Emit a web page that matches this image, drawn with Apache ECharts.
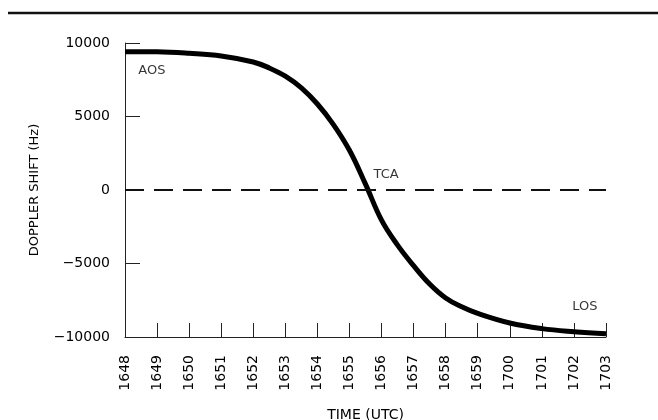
<!DOCTYPE html>
<html>
<head>
<meta charset="utf-8">
<script src="https://cdn.jsdelivr.net/npm/echarts@6/dist/echarts.min.js"></script>
<style>
html,body{margin:0;padding:0;background:#fff;}
#c{width:658px;height:420px;}
</style>
</head>
<body>
<div id="c"></div>
<script>
// minutes after 1648 UTC (half-minute readings where the curve is steep)
const minutes = [0,1,2,3,4,4.5,5,5.5,6,6.5,7,7.5,8,8.5,9,9.5,10,10.5,11,12,13,14,15];
const dopplerHz = [9410,9400,9300,9120,8710,8300,7750,6950,5850,4450,2700,400,-2050,-3750,-5150,-6400,-7350,-7950,-8400,-9050,-9430,-9640,-9780];
const timeLabels = ['1648','1649','1650','1651','1652','1653','1654','1655','1656','1657','1658','1659','1700','1701','1702','1703'];
const annotationNames = ['AOS','TCA','LOS'];
const annotationX = [0.84,8.14,14.34];
const annotationY = [8100,1020,-7960];

const font = 'DejaVu Sans';
const chart = echarts.init(document.getElementById('c'), null, {renderer:'canvas'});
const option = {
  animation:false,
  backgroundColor:'#fff',
  grid:{left:125,right:52,top:43,bottom:83,outerBoundsMode:'none',containLabel:false},
  xAxis:{
    type:'value',min:0,max:15,interval:1,
    name:'TIME (UTC)',nameLocation:'middle',nameGap:71,
    nameTextStyle:{fontFamily:font,fontSize:14,color:'#000'},
    axisLine:{show:true,onZero:false,lineStyle:{color:'#222',width:1}},
    axisTick:{show:true,inside:true,length:14,lineStyle:{color:'#222',width:1}},
    axisLabel:{rotate:90,margin:18,fontFamily:font,fontSize:14,color:'#000',
      formatter:v=>timeLabels[Math.round(v)]||''},
    splitLine:{show:false}
  },
  yAxis:{
    type:'value',min:-10000,max:10000,interval:5000,
    name:'DOPPLER SHIFT (Hz)',nameLocation:'middle',nameGap:84,
    nameTextStyle:{fontFamily:font,fontSize:13,color:'#000'},
    axisLine:{show:true,onZero:false,lineStyle:{color:'#222',width:1}},
    axisTick:{show:true,inside:true,length:15,lineStyle:{color:'#222',width:1}},
    axisLabel:{margin:15,fontFamily:font,fontSize:14,color:'#000',
      formatter:v=>v<0?'\u2212'+Math.abs(v):String(v)},
    splitLine:{show:false}
  },
  graphic:[{type:'line',shape:{x1:8,y1:13,x2:658,y2:13},style:{stroke:'#111',lineWidth:2.5}}],
  series:[
    {
      type:'line',
      data:minutes.map((m,i)=>[m,dopplerHz[i]]),
      smooth:0.4,
      symbol:'none',
      lineStyle:{color:'#000',width:5},
      markLine:{
        silent:true,symbol:'none',
        label:{show:false},
        lineStyle:{color:'#111',width:2,type:[19,10]},
        data:[{yAxis:0}]
      },
      z:3
    },
    {
      type:'scatter',
      data:annotationNames.map((n,i)=>({name:n,value:[annotationX[i],annotationY[i]]})),
      symbolSize:0,
      label:{show:true,position:'inside',formatter:p=>p.name,fontFamily:font,fontSize:13,color:'#000'},
      silent:true
    }
  ]
};
chart.setOption(option);
</script>
</body>
</html>
